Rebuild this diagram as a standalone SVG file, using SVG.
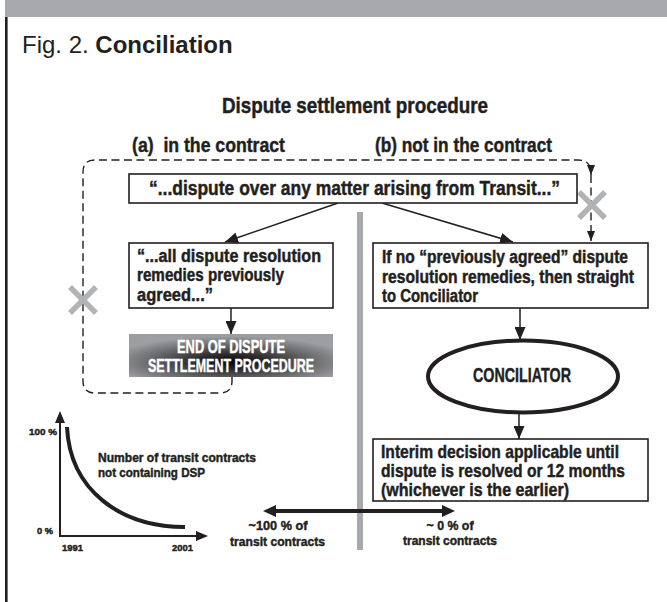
<svg xmlns="http://www.w3.org/2000/svg" width="667" height="602" viewBox="0 0 667 602">
<style>
.t{font-family:"Liberation Sans",Arial,sans-serif;font-weight:bold;fill:#231f20;stroke:#231f20;stroke-width:0.45}
.w{fill:#fff;stroke:#fff}
.box{fill:#fff;stroke:#231f20;stroke-width:1.6}
.con{fill:none;stroke:#231f20;stroke-width:1.5}
.dash{fill:none;stroke:#231f20;stroke-width:1.4;stroke-dasharray:8 4.5}
.x{stroke:#b1b3b6;stroke-width:5.5;stroke-linecap:butt}
</style>
<defs>
<marker id="ah" markerUnits="userSpaceOnUse" markerWidth="13" markerHeight="11" refX="13" refY="5.5" orient="auto"><path d="M0,0 L13,5.5 L0,11 z" fill="#231f20"/></marker>
<marker id="ahs" markerUnits="userSpaceOnUse" markerWidth="10" markerHeight="8" refX="10" refY="4" orient="auto"><path d="M0,0 L10,4 L0,8 z" fill="#231f20"/></marker>
<radialGradient id="g" cx="0.5" cy="0.65" r="0.6">
<stop offset="0" stop-color="#050404"/>
<stop offset="0.3" stop-color="#2e2c2d"/>
<stop offset="0.7" stop-color="#6e6f71"/>
<stop offset="1" stop-color="#9c9ea1"/>
</radialGradient>
</defs>
<rect x="0" y="0" width="667" height="602" fill="#fff"/>
<rect x="5" y="0" width="662" height="17" fill="#a7a9ac"/>
<rect x="5" y="17" width="2.6" height="585" fill="#231f20"/>
<text x="22" y="53" style="font-family:'Liberation Sans',Arial,sans-serif;font-size:24px;fill:#231f20">Fig. 2. <tspan font-weight="bold">Conciliation</tspan></text>
<text class="t" x="222" y="113" font-size="22.5" textLength="266" lengthAdjust="spacingAndGlyphs">Dispute settlement procedure</text>
<text class="t" x="132" y="152" font-size="20" textLength="153" lengthAdjust="spacingAndGlyphs" xml:space="preserve">(a)  in the contract</text>
<text class="t" x="375" y="152" font-size="20" textLength="177" lengthAdjust="spacingAndGlyphs">(b) not in the contract</text>
<rect x="357" y="212" width="6" height="338" fill="#a7a9ac"/>
<g id="connectors">
<path class="dash" d="M232,377 L232,381 Q232,393 220,393 L95,393 Q83,393 83,381 L83,172 Q83,160 95,160 L578,160 Q591,160 591,173 L591,175" marker-end="url(#ahs)"/>
<path class="dash" d="M591,175 L591,241" marker-end="url(#ahs)"/>
<line class="con" x1="338" y1="203" x2="225" y2="242" marker-end="url(#ah)"/>
<line class="con" x1="382" y1="203" x2="513" y2="242" marker-end="url(#ah)"/>
<line class="con" x1="231" y1="308" x2="231" y2="334" marker-end="url(#ah)"/>
<line class="con" x1="520" y1="308" x2="520" y2="340" marker-end="url(#ah)"/>
<line class="con" x1="519" y1="413" x2="519" y2="439" marker-end="url(#ah)"/>
<line x1="275" y1="511" x2="443" y2="511" stroke="#231f20" stroke-width="4"/>
<polygon points="263,511 276,505 276,517" fill="#231f20"/>
<polygon points="455,511 442,505 442,517" fill="#231f20"/>
</g>
<g id="x-left"><line class="x" x1="70" y1="287" x2="96" y2="313"/><line class="x" x1="96" y1="287" x2="70" y2="313"/></g>
<g id="x-right"><line class="x" x1="579" y1="192" x2="605" y2="218"/><line class="x" x1="605" y1="192" x2="579" y2="218"/></g>
<g id="n-top">
<rect class="box" x="129" y="174" width="448" height="29"/>
<text class="t" x="149" y="195" font-size="19.5" textLength="411" lengthAdjust="spacingAndGlyphs">“...dispute over any matter arising from Transit...”</text>
</g>
<g id="n-agreed">
<rect class="box" x="129" y="243" width="204" height="65"/>
<text class="t" x="137" y="262" font-size="17.5" textLength="184" lengthAdjust="spacingAndGlyphs">“...all dispute resolution</text>
<text class="t" x="137" y="281" font-size="17.5" textLength="147" lengthAdjust="spacingAndGlyphs">remedies previously</text>
<text class="t" x="137" y="301" font-size="17.5" textLength="76" lengthAdjust="spacingAndGlyphs">agreed...”</text>
</g>
<g id="n-end">
<rect x="129" y="334" width="204" height="43" fill="url(#g)"/>
<text class="t w" x="231" y="353" font-size="18" text-anchor="middle" textLength="108" lengthAdjust="spacingAndGlyphs">END OF DISPUTE</text>
<text class="t w" x="231" y="372" font-size="18" text-anchor="middle" textLength="166" lengthAdjust="spacingAndGlyphs">SETTLEMENT PROCEDURE</text>
</g>
<g id="n-noagreed">
<rect class="box" x="373" y="243" width="275" height="65"/>
<text class="t" x="382" y="263" font-size="17.5" textLength="246" lengthAdjust="spacingAndGlyphs">If no “previously agreed” dispute</text>
<text class="t" x="382" y="283" font-size="17.5" textLength="252" lengthAdjust="spacingAndGlyphs">resolution remedies, then straight</text>
<text class="t" x="382" y="302" font-size="17.5" textLength="96" lengthAdjust="spacingAndGlyphs">to Conciliator</text>
</g>
<g id="n-conciliator">
<ellipse cx="523" cy="376.5" rx="95" ry="36" fill="#fff" stroke="#231f20" stroke-width="4"/>
<text class="t" x="473" y="382" font-size="20" textLength="98" lengthAdjust="spacingAndGlyphs">CONCILIATOR</text>
</g>
<g id="n-interim">
<rect class="box" x="373" y="439" width="275" height="62"/>
<text class="t" x="381" y="458" font-size="18.5" textLength="238" lengthAdjust="spacingAndGlyphs">Interim decision applicable until</text>
<text class="t" x="381" y="477" font-size="18.5" textLength="244" lengthAdjust="spacingAndGlyphs">dispute is resolved or 12 months</text>
<text class="t" x="381" y="496" font-size="18.5" textLength="188" lengthAdjust="spacingAndGlyphs">(whichever is the earlier)</text>
</g>
<g id="labels-share">
<text class="t" x="278" y="530" font-size="13.5" text-anchor="middle" textLength="59" lengthAdjust="spacingAndGlyphs">~100 % of</text>
<text class="t" x="277.5" y="546" font-size="13.5" text-anchor="middle" textLength="95" lengthAdjust="spacingAndGlyphs">transit contracts</text>
<text class="t" x="450" y="530" font-size="13.5" text-anchor="middle" textLength="47" lengthAdjust="spacingAndGlyphs">~ 0 % of</text>
<text class="t" x="450" y="545" font-size="13.5" text-anchor="middle" textLength="94" lengthAdjust="spacingAndGlyphs">transit contracts</text>
</g>
<g id="graph">
<line x1="60" y1="536" x2="60" y2="421" stroke="#231f20" stroke-width="2"/>
<polygon points="60,411 55,423 65,423" fill="#231f20"/>
<line x1="59" y1="536" x2="198" y2="536" stroke="#231f20" stroke-width="2"/>
<polygon points="208,536 196,531 196,541" fill="#231f20"/>
<path d="M67,427 C70,490 120,527 185,527" fill="none" stroke="#231f20" stroke-width="4"/>
<text class="t" x="29" y="435" font-size="9.5" textLength="28" lengthAdjust="spacingAndGlyphs">100 %</text>
<text class="t" x="37" y="534" font-size="9.5" textLength="16" lengthAdjust="spacingAndGlyphs">0 %</text>
<text class="t" x="62" y="551" font-size="9.5" textLength="21" lengthAdjust="spacingAndGlyphs">1991</text>
<text class="t" x="172" y="551" font-size="9.5" textLength="21" lengthAdjust="spacingAndGlyphs">2001</text>
<text class="t" x="98" y="462" font-size="13" textLength="158" lengthAdjust="spacingAndGlyphs">Number of transit contracts</text>
<text class="t" x="98" y="477" font-size="13" textLength="107" lengthAdjust="spacingAndGlyphs">not containing DSP</text>
</g>
</svg>
